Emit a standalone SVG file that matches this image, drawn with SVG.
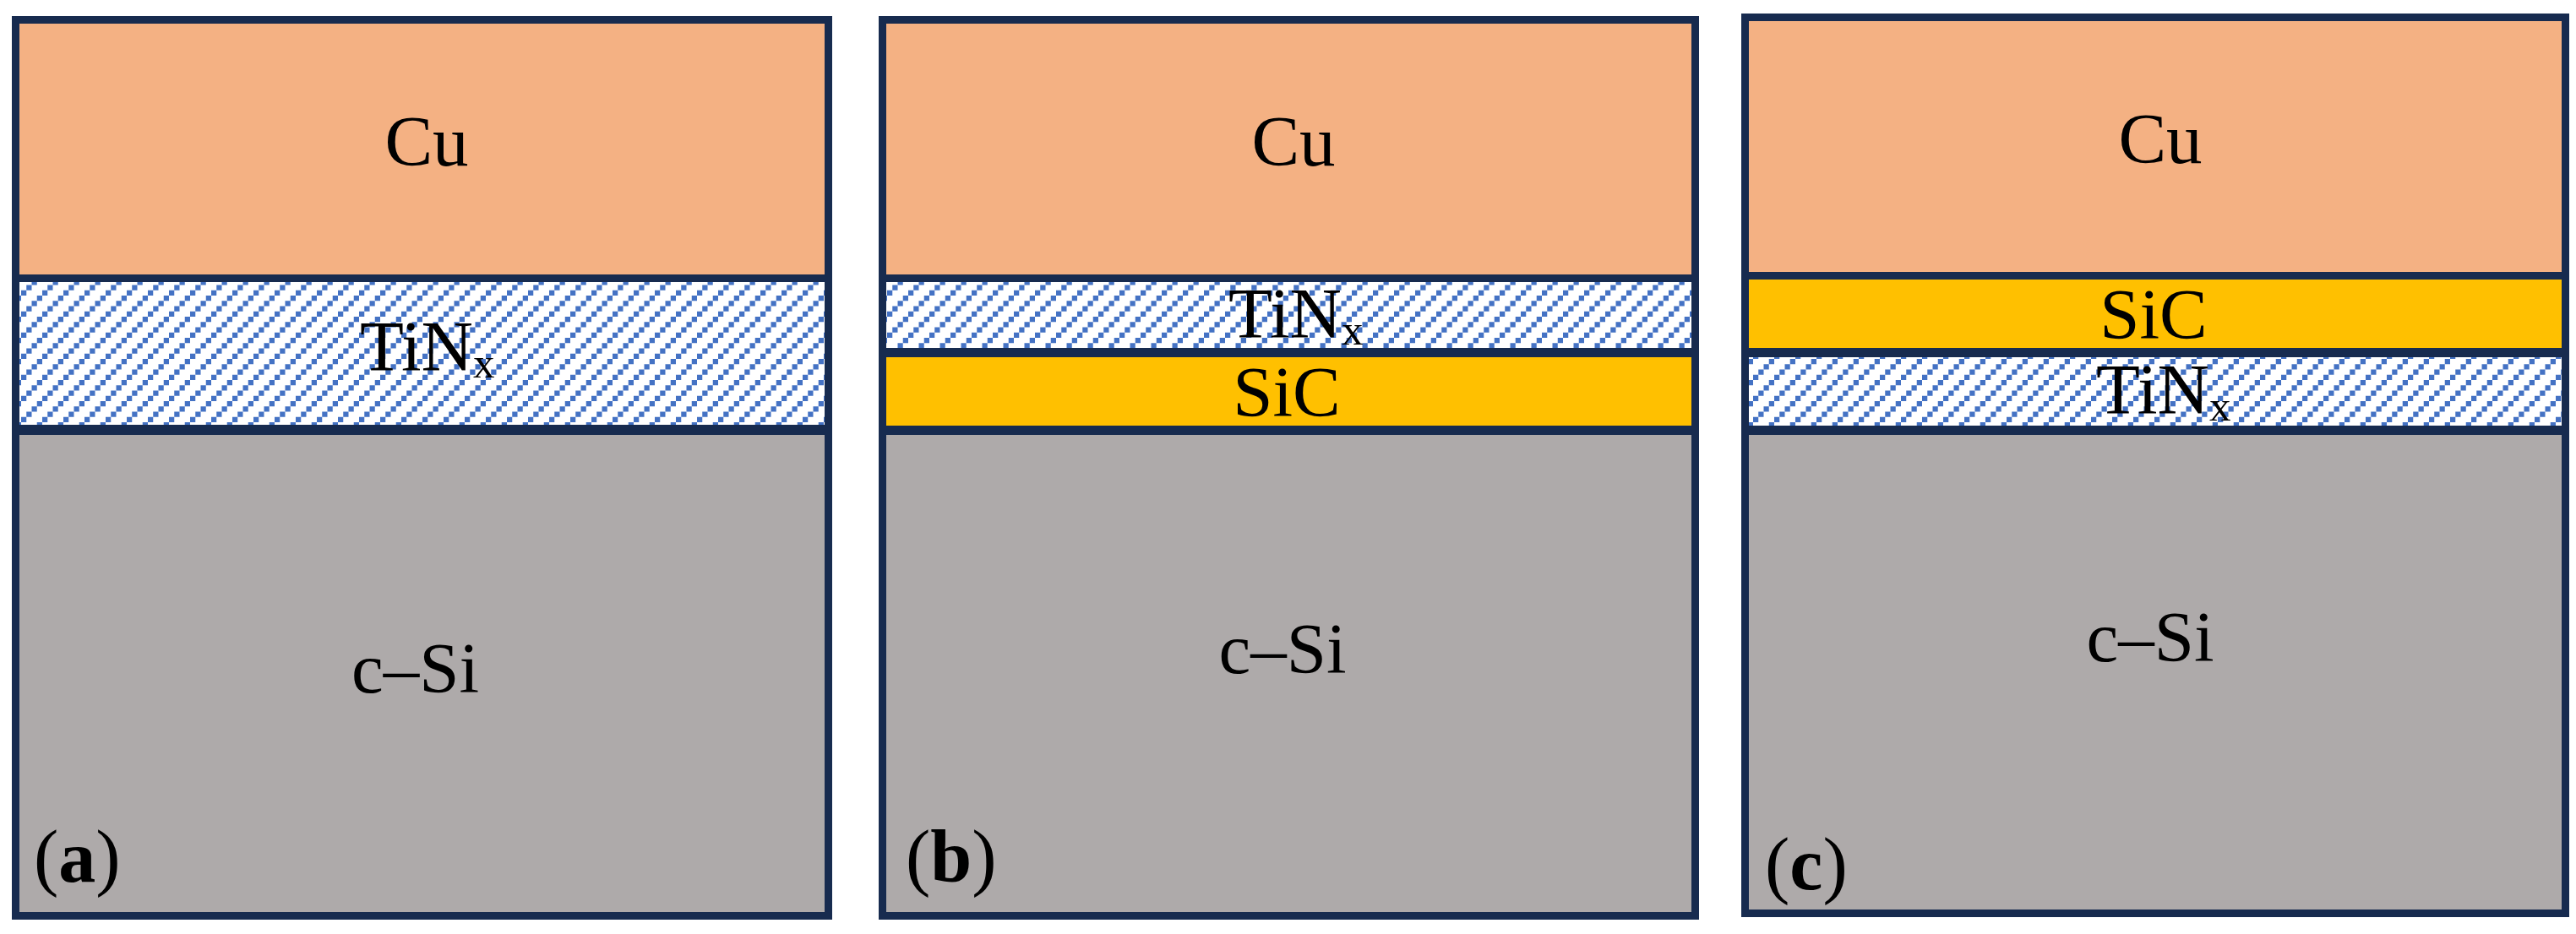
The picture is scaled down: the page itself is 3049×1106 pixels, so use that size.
<svg xmlns="http://www.w3.org/2000/svg" width="3049" height="1106" viewBox="0 0 3049 1106">
<style>
.cu{fill:#F4B183}
.sic{fill:#FFC000}
.si{fill:#AEAAAA}
.tin{fill:url(#hatch)}
.bd{fill:#172B4F}
.frame{fill:none;stroke:#172B4F;stroke-width:9}
.t{font-family:"Liberation Serif","Times New Roman",serif;font-size:85px;fill:#000}
.sub{font-size:51px}
.lbl{font-family:"Liberation Serif","Times New Roman",serif;font-size:88px;fill:#000}
.b{font-weight:bold}
</style>
<defs>
<pattern id="hatch" patternUnits="userSpaceOnUse" width="25" height="25">
<rect width="25" height="25" fill="#FFFFFF"/>
<g fill="#4472C4">
<rect x="0" y="18.75" width="6.25" height="6.25"/>
<rect x="6.25" y="12.5" width="6.25" height="6.25"/>
<rect x="12.5" y="6.25" width="6.25" height="6.25"/>
<rect x="18.75" y="0" width="6.25" height="6.25"/>
</g>
</pattern>
</defs>

<g id="panel-a">
<rect class="cu" x="23" y="28" width="953" height="297"/>
<rect class="tin" x="23" y="334" width="953" height="169"/>
<rect class="si" x="23" y="515" width="953" height="565"/>
<rect class="bd" x="23" y="325" width="953" height="9"/>
<rect class="bd" x="23" y="503" width="953" height="12"/>
<rect class="frame" x="18.5" y="23.5" width="962" height="1061"/>
<text class="t" x="505" y="196" text-anchor="middle">Cu</text>
<text class="t" x="426" y="439">TiN<tspan class="sub" dy="8">x</tspan></text>
<text class="t" x="491.5" y="820" text-anchor="middle">c–Si</text>
<text class="lbl" x="40" y="1044">(<tspan class="b">a</tspan>)</text>
</g>

<g id="panel-b">
<rect class="cu" x="1049" y="28" width="953" height="297"/>
<rect class="tin" x="1049" y="334" width="953" height="78"/>
<rect class="sic" x="1049" y="423" width="953" height="81"/>
<rect class="si" x="1049" y="515" width="953" height="565"/>
<rect class="bd" x="1049" y="325" width="953" height="9"/>
<rect class="bd" x="1049" y="412" width="953" height="11"/>
<rect class="bd" x="1049" y="504" width="953" height="11"/>
<rect class="frame" x="1044.5" y="23.5" width="962" height="1061"/>
<text class="t" x="1531" y="196" text-anchor="middle">Cu</text>
<text class="t" x="1454" y="400">TiN<tspan class="sub" dy="8">x</tspan></text>
<text class="t" x="1523" y="493" text-anchor="middle">SiC</text>
<text class="t" x="1518" y="797" text-anchor="middle">c–Si</text>
<text class="lbl" x="1072" y="1044">(<tspan class="b">b</tspan>)</text>
</g>

<g id="panel-c">
<rect class="cu" x="2070" y="25" width="962" height="297"/>
<rect class="sic" x="2070" y="331" width="962" height="81"/>
<rect class="tin" x="2070" y="423" width="962" height="81"/>
<rect class="si" x="2070" y="515" width="962" height="562"/>
<rect class="bd" x="2070" y="322" width="962" height="9"/>
<rect class="bd" x="2070" y="412" width="962" height="11"/>
<rect class="bd" x="2070" y="504" width="962" height="11"/>
<rect class="frame" x="2065.5" y="20.5" width="971" height="1061"/>
<text class="t" x="2557" y="193" text-anchor="middle">Cu</text>
<text class="t" x="2549" y="401" text-anchor="middle">SiC</text>
<text class="t" x="2481" y="490">TiN<tspan class="sub" dy="8">x</tspan></text>
<text class="t" x="2545" y="783" text-anchor="middle">c–Si</text>
<text class="lbl" x="2089" y="1053">(<tspan class="b">c</tspan>)</text>
</g>
</svg>
